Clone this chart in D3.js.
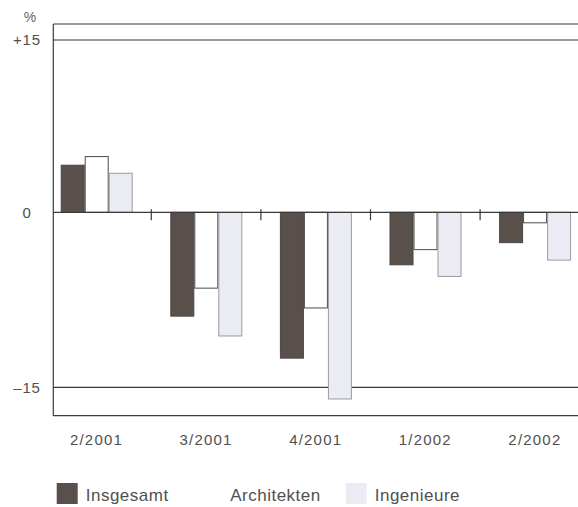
<!DOCTYPE html>
<html>
<head>
<meta charset="utf-8">
<script src="https://cdn.jsdelivr.net/npm/d3@7"></script>
<style>
  html, body { margin: 0; padding: 0; background: #fff; }
  svg { display: block; }
  text { font-family: "Liberation Sans", Arial, sans-serif; fill: #505050; }
</style>
</head>
<body>
<svg id="chart" width="578" height="507"></svg>
<script>
// ---- data ----
const categories = ["2/2001", "3/2001", "4/2001", "1/2002", "2/2002"];
const seriesNames = ["Insgesamt", "Architekten", "Ingenieure"];
const insgesamt   = [4.1, -8.9, -12.5, -4.5, -2.6];
const architekten = [4.85, -6.5, -8.2, -3.2, -0.9];
const ingenieure  = [3.4, -10.6, -16.0, -5.5, -4.1];
const yTickValues = [-15, 0, 15];
const yTickLabels = ["–15", "0", "+15"];
const unitLabel = "%";

// ---- layout / style ----
const W = 578, H = 507;
const frameLeft = 53.3, frameTop = 24, frameBottom = 415.7;
const colors = { Insgesamt: "#5a504b", Architekten: "#ffffff", Ingenieure: "#ebebf4" };
const strokes = { Insgesamt: "#4a4540", Architekten: "#4a4a4a", Ingenieure: "#9a9aa2" };
const lineColor = "#3a3a3a";

const svg = d3.select("#chart");

const y = d3.scaleLinear().domain([-15, 0, 15]).range([387.3, 212.3, 40]);
const x = d3.scaleBand().domain(categories).range([41.7, 41.7 + 5 * 109.6]).paddingInner(0).paddingOuter(0);
const xs = d3.scaleBand().domain(seriesNames).range([19, 91]).padding(0);

const rows = categories.map((c, i) => ({
  cat: c,
  values: [
    { key: "Insgesamt", v: insgesamt[i] },
    { key: "Architekten", v: architekten[i] },
    { key: "Ingenieure", v: ingenieure[i] }
  ]
}));

// frame lines
svg.append("line").attr("x1", frameLeft).attr("x2", W).attr("y1", frameTop).attr("y2", frameTop)
  .attr("stroke", lineColor).attr("stroke-width", 1.2);
svg.append("line").attr("x1", frameLeft).attr("x2", W).attr("y1", frameBottom).attr("y2", frameBottom)
  .attr("stroke", lineColor).attr("stroke-width", 1.2);
svg.append("line").attr("x1", frameLeft).attr("x2", frameLeft).attr("y1", frameTop).attr("y2", frameBottom)
  .attr("stroke", lineColor).attr("stroke-width", 1.2);

// horizontal reference lines (+15, -15)
svg.selectAll("line.ref").data(yTickValues.filter(d => d !== 0)).join("line")
  .attr("class", "ref")
  .attr("x1", frameLeft).attr("x2", W)
  .attr("y1", d => y(d)).attr("y2", d => y(d))
  .attr("stroke", lineColor).attr("stroke-width", 1.2);

// bars
const g = svg.selectAll("g.grp").data(rows).join("g")
  .attr("class", "grp")
  .attr("transform", d => `translate(${x(d.cat)},0)`);

// draw Architekten first (behind), then the others on top
const order = ["Architekten", "Insgesamt", "Ingenieure"];
order.forEach(k => {
  g.append("rect")
    .datum(d => d.values.find(v => v.key === k))
    .attr("x", d => xs(d.key) + 0.5)
    .attr("width", xs.bandwidth() - 1)
    .attr("y", d => Math.min(y(d.v), y(0)))
    .attr("height", d => Math.abs(y(d.v) - y(0)))
    .attr("fill", d => colors[d.key])
    .attr("stroke", d => strokes[d.key])
    .attr("stroke-width", 1);
});

// zero line
svg.append("line").attr("x1", frameLeft).attr("x2", W).attr("y1", y(0)).attr("y2", y(0))
  .attr("stroke", lineColor).attr("stroke-width", 1.2);

// separator ticks between groups
svg.selectAll("line.sep").data(categories.slice(1)).join("line")
  .attr("class", "sep")
  .attr("x1", d => x(d)).attr("x2", d => x(d))
  .attr("y1", y(0) - 3).attr("y2", y(0) + 8)
  .attr("stroke", lineColor).attr("stroke-width", 1.2);

// y labels
svg.selectAll("text.ylab").data(yTickValues).join("text")
  .attr("class", "ylab")
  .attr("x", 27).attr("y", d => y(d))
  .attr("dy", "0.36em")
  .attr("text-anchor", "middle")
  .style("font-size", "15px")
  .style("letter-spacing", "0.8px")
  .text((d, i) => yTickLabels[i]);

svg.append("text").attr("x", 30).attr("y", 17).attr("dy", "0.36em")
  .attr("text-anchor", "middle").style("font-size", "14px").style("fill", "#666").text(unitLabel);

// category labels
svg.selectAll("text.xlab").data(categories).join("text")
  .attr("class", "xlab")
  .attr("x", d => x(d) + x.bandwidth() / 2)
  .attr("y", 440).attr("dy", "0.36em")
  .attr("text-anchor", "middle")
  .style("font-size", "15px")
  .style("letter-spacing", "1.2px")
  .text(d => d);

// legend
const lg = svg.selectAll("g.leg").data(seriesNames).join("g")
  .attr("class", "leg")
  .attr("transform", (d, i) => `translate(${56.7 + i * 144.5},483)`);
lg.append("rect").attr("width", 21).attr("height", 21)
  .attr("fill", d => colors[d]);
lg.append("text").attr("x", 29).attr("y", 18)
  .style("font-size", "17px")
  .style("letter-spacing", "0.5px")
  .text(d => d);
</script>
</body>
</html>
